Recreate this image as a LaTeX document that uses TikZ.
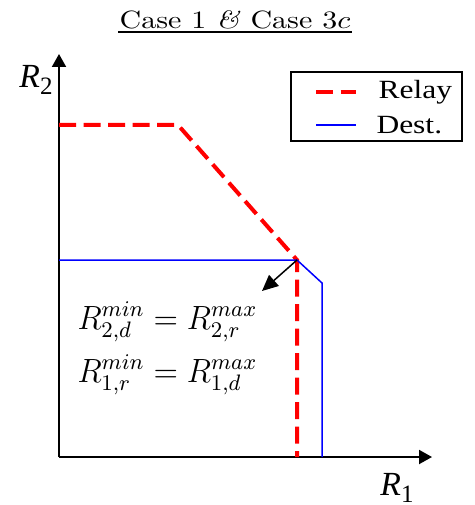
\documentclass[tikz,border=0pt]{standalone}
\usepackage{amsmath}
\usepackage{graphicx}
\usepackage{fontspec}
\usepackage{tikz}
\usetikzlibrary{arrows.meta,positioning}
\newfontfamily\tnr{Liberation Serif}
\newcommand{\axlab}[2]{{\tnr\itshape #1}\raisebox{-0.45ex}{\tnr\fontsize{10}{10}\selectfont #2}}
\newcommand{\wide}[1]{\scalebox{1.2}[1]{#1}}

\begin{document}
\begin{tikzpicture}[
  x=0.4pt, y=-0.4pt,
  axis/.style={thick, -{Triangle[length=5.2pt, width=5.6pt]}},
  relay/.style={red, line width=1.6pt, dash pattern=on 6.8pt off 3pt},
  dest/.style={blue, line width=0.6pt},
  lbl/.style={font=\tnr\fontsize{13.5}{13}\selectfont, inner sep=0pt},
  legtext/.style={font=\tnr\fontsize{10.5}{11}\selectfont, anchor=west, inner sep=0pt},
  eqn/.style={anchor=base west, inner sep=0pt, font=\fontsize{12}{14}\selectfont}
]
  \useasboundingbox (0,0) rectangle (474,505);

  % title
  \node[inner sep=0pt] (title) at (235,20) {\wide{\fontsize{10}{12}\selectfont Case 1 \textit{\&} Case 3$c$}};
  \draw[line width=0.5pt] (118,32) -- (352,32);

  % axes
  \coordinate (origin) at (59,457);
  \draw[axis] (origin) -- (59,54);
  \draw[axis] (origin) -- (432,457);
  \node[lbl] (r2) at (36,80) {\axlab{R}{2}};
  \node[lbl] (r1) at (397,488) {\axlab{R}{1}};

  % regions
  \coordinate (corner) at (297,260);
  \draw[relay] (59,125) -- (178,125) -- (corner) -- (297,457);
  \draw[dest] (59,260) -- (corner) -- (322,283) -- (322,457);
  \coordinate (tip) at (262,291);
  \draw[line width=0.6pt, -{Triangle[length=6.4pt, width=5.8pt]}] (corner) -- (tip);

  % constraints
  \node[eqn] (eq1) at (77,329) {\scalebox{1.07}[1.12]{$R_{2,d}^{min} = R_{2,r}^{max}$}};
  \node[eqn] (eq2) at (77,382) {\scalebox{1.07}[1.12]{$R_{1,r}^{min} = R_{1,d}^{max}$}};

  % legend
  \draw[line width=0.5pt] (291,72) rectangle (462,141);
  \draw[relay] (316,92) -- (356,92);
  \node[legtext] (lrelay) at (378,92) {\wide{Relay}};
  \draw[dest] (316,125) -- (356,125);
  \node[legtext] (ldest) at (376,125) {\wide{Dest.}};
\end{tikzpicture}
\end{document}
